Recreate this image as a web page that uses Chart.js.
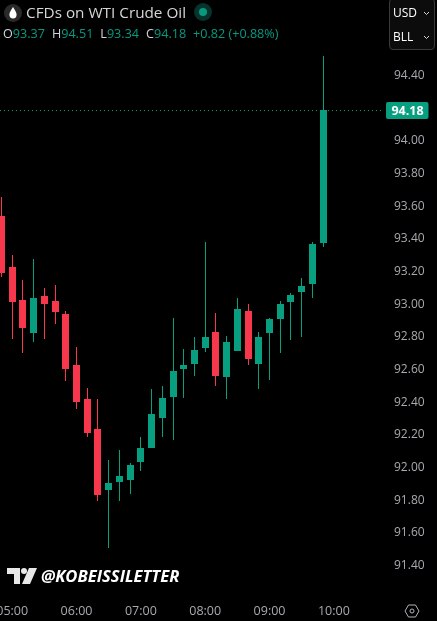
<!DOCTYPE html>
<html lang="en">
<head>
    <meta charset="utf-8"/>
    <title>CFDs on WTI Crude Oil</title>
    <script src="https://cdn.jsdelivr.net/npm/chart.js@4"></script>
    <style>
        * {
            margin: 0;
            padding: 0;
            box-sizing: border-box;
        }

        body {
            width: 437px;
            height: 621px;
            background: #000000;
            overflow: hidden;
            position: relative;
            font-family: "Open Sans", sans-serif;
        }

        canvas {
            position: absolute;
            left: 0;
            top: 0;
        }

        .abs {
            position: absolute;
            white-space: nowrap;
        }

        .title {
            left: 26px;
            top: 1px;
            font-size: 15.3px;
            line-height: 22px;
            color: #d6d6d6;
        }

        .ohlc {
            left: 3px;
            top: 25px;
            font-size: 12.6px;
            line-height: 18px;
            color: #089981;
        }

        .ohlc b {
            font-weight: 400;
            color: #d1d4dc;
        }

        .ohlc span {
            margin-right: 7px;
        }

        .selector {
            left: 389px;
            top: -2px;
            width: 46px;
            height: 52px;
            border: 1px solid #3a3a3a;
            border-radius: 4px;
            background: #0c0c0c;
        }

        .selector div {
            position: absolute;
            left: 3px;
            font-size: 12px;
            line-height: 16px;
            color: #ffffff;
        }

        .selector svg {
            position: absolute;
            left: 33px;
        }

        .watermark {
            left: 41px;
            top: 565px;
            font-size: 16.6px;
            line-height: 22px;
            font-weight: 700;
            font-style: italic;
            color: #ffffff;
        }
    </style>
</head>
<body>
    <canvas id="chart" width="437" height="621"></canvas>

    <svg class="abs" style="left:4px;top:4px" width="18" height="18" viewBox="0 0 18 18">
        <circle cx="9" cy="9" r="9" fill="#2a2a2a"/>
        <path d="M9 3 C7 6.5 5.4 8.5 5.4 10.8 A3.6 3.6 0 0 0 12.6 10.8 C12.6 8.5 11 6.5 9 3 Z" fill="#ffffff"/>
    </svg>
    <div class="abs title">CFDs on WTI Crude Oil</div>
    <svg class="abs" style="left:194px;top:3px" width="18" height="18" viewBox="0 0 18 18">
        <circle cx="9" cy="9" r="9" fill="#06332c"/>
        <circle cx="9" cy="9" r="4" fill="#089981"/>
    </svg>
    <div class="abs ohlc">
        <span><b>O</b>93.37</span><span><b>H</b>94.51</span><span><b>L</b>93.34</span><span><b>C</b>94.18</span><span>+0.82 (+0.88%)</span>
    </div>

    <div class="abs selector">
        <div style="top:6px">USD</div>
        <svg style="top:12px" width="7" height="5" viewBox="0 0 7 5"><path d="M1 1 L3.5 3.5 L6 1" fill="none" stroke="#d1d4dc"/></svg>
        <div style="top:30px">BLL</div>
        <svg style="top:36px" width="7" height="5" viewBox="0 0 7 5"><path d="M1 1 L3.5 3.5 L6 1" fill="none" stroke="#d1d4dc"/></svg>
    </div>

    <svg class="abs" style="left:7px;top:568px" width="30" height="16" viewBox="0 0 30 16">
        <path d="M0 0 H13 V16 H7 V6 H0 Z" fill="#e8e8e8"/>
        <circle cx="17" cy="3" r="3" fill="#e8e8e8"/>
        <path d="M22 0 H30 L23 16 H15 Z" fill="#e8e8e8"/>
    </svg>
    <div class="abs watermark">@KOBEISSILETTER</div>

    <svg class="abs" style="left:404px;top:603px" width="16" height="16" viewBox="0 0 16 16">
        <path d="M4.5 2 H11.5 L15 8 L11.5 14 H4.5 L1 8 Z" fill="none" stroke="#b2b5be"/>
        <circle cx="8" cy="8" r="2" fill="none" stroke="#b2b5be"/>
    </svg>

    <script>
        const barTimes = ["04:50", "05:00", "05:10", "05:20", "05:30", "05:40", "05:50", "06:00", "06:10", "06:20", "06:30",
            "06:40", "06:50", "07:00", "07:10", "07:20", "07:30", "07:40", "07:50", "08:00", "08:10",
            "08:20", "08:30", "08:40", "08:50", "09:00", "09:10", "09:20", "09:30", "09:40", "09:50"];

        const opens = [93.535, 93.222, 93.020, 92.820, 93.045, 93.014, 92.935, 92.622, 92.414, 92.230, 91.859,
            91.908, 91.920, 92.030, 92.116, 92.300, 92.428, 92.598, 92.628, 92.726, 92.824,
            92.551, 92.708, 92.953, 92.628, 92.818, 92.904, 93.008, 93.069, 93.118, 93.372];
        const highs = [93.651, 93.296, 93.143, 93.271, 93.094, 93.112, 92.953, 92.733, 92.481, 92.414, 92.041,
            92.102, 92.022, 92.181, 92.475, 92.494, 92.910, 92.720, 92.794, 93.376, 92.941,
            92.800, 93.033, 92.996, 92.824, 92.910, 93.014, 93.063, 93.155, 93.376, 94.515];
        const lows = [93.161, 92.783, 92.698, 92.765, 92.783, 92.875, 92.526, 92.355, 92.183, 91.791, 91.503,
            91.791, 91.834, 91.975, 92.116, 92.183, 92.163, 92.422, 92.557, 92.702, 92.494,
            92.414, 92.708, 92.622, 92.475, 92.530, 92.696, 92.775, 92.794, 93.033, 93.347];
        const closes = [93.188, 93.010, 92.851, 93.033, 92.998, 92.949, 92.600, 92.398, 92.208, 91.828, 91.900,
            91.943, 92.010, 92.114, 92.322, 92.420, 92.586, 92.622, 92.714, 92.794, 92.555,
            92.763, 92.965, 92.659, 92.794, 92.904, 92.996, 93.051, 93.106, 93.363, 94.182];

        const timeTicks = ["05:00", "06:00", "07:00", "08:00", "09:00", "10:00"];
        const priceTicks = [94.4, 94.0, 93.8, 93.6, 93.4, 93.2, 93.0, 92.8, 92.6, 92.4, 92.2, 92.0, 91.8, 91.6, 91.4];
        const lastPrice = 94.18;

        const upColor = "#089f81";
        const downColor = "#f7374b";
        const labelColor = "#a8aab0";

        function toMinutes(time) {
            const parts = time.split(":");
            return parseInt(parts[0]) * 60 + parseInt(parts[1]);
        }

        const barX = barTimes.map(toMinutes);
        const barColors = closes.map((c, i) => (c >= opens[i] ? upColor : downColor));

        // snap candles to whole pixels, otherwise the 1px wicks come out blurred
        const snapCandles = {
            id: "snapCandles",
            beforeDatasetsDraw(chart) {
                chart.data.datasets.forEach((ds, i) => {
                    if (ds.type === "line") return;
                    chart.getDatasetMeta(i).data.forEach((el) => {
                        el.x = Math.round(el.x - 0.5) + 0.5;
                        el.y = Math.round(el.y);
                        el.base = Math.round(el.base);
                    });
                });
            }
        };

        // green tag with the last price on the right axis
        const priceTag = {
            id: "priceTag",
            afterDraw(chart) {
                const ctx = chart.ctx;
                const y = Math.round(chart.scales.y.getPixelForValue(lastPrice));
                ctx.save();
                ctx.fillStyle = upColor;
                ctx.beginPath();
                ctx.roundRect(386, y - 9, 42.5, 17, 2);
                ctx.fill();
                ctx.fillStyle = "#ffffff";
                ctx.font = '700 12.5px "Open Sans"';
                ctx.textAlign = "center";
                ctx.textBaseline = "middle";
                ctx.fillText(lastPrice.toFixed(2), 407.5, y);
                ctx.restore();
            }
        };

        new Chart(document.getElementById("chart").getContext("2d"), {
            type: "bar",
            data: {
                datasets: [
                    {
                        label: "Body",
                        data: barX.map((x, i) => ({ x: x, y: [opens[i], closes[i]] })),
                        backgroundColor: barColors,
                        barThickness: 7,
                        grouped: false,
                        inflateAmount: 0,
                        borderWidth: 0
                    },
                    {
                        label: "Wick",
                        data: barX.map((x, i) => ({ x: x, y: [lows[i], highs[i]] })),
                        backgroundColor: barColors,
                        barThickness: 1,
                        grouped: false,
                        inflateAmount: 0,
                        borderWidth: 0
                    },
                    {
                        type: "line",
                        label: "Last",
                        data: [{ x: 288.6, y: lastPrice }, { x: 644.9, y: lastPrice }],
                        borderColor: upColor,
                        borderWidth: 1,
                        borderDash: [1, 3],
                        pointRadius: 0
                    }
                ]
            },
            options: {
                responsive: false,
                animation: false,
                layout: { padding: 0 },
                plugins: {
                    legend: { display: false },
                    tooltip: { enabled: false }
                },
                scales: {
                    x: {
                        type: "linear",
                        offset: false,
                        min: 288.6,
                        max: 644.9,
                        grid: { display: false },
                        border: { display: false },
                        afterBuildTicks(scale) {
                            scale.ticks = timeTicks.map((t) => ({ value: toMinutes(t) }));
                        },
                        afterFit(scale) {
                            scale.height = 27;
                            scale.paddingLeft = 0;
                            scale.paddingRight = 0;
                        },
                        ticks: {
                            autoSkip: false,
                            maxRotation: 0,
                            color: labelColor,
                            font: { family: "Open Sans", size: 12.5 },
                            padding: 2,
                            callback: (value) => timeTicks.find((t) => toMinutes(t) === value)
                        }
                    },
                    y: {
                        position: "right",
                        min: 91.22,
                        max: 94.857,
                        grid: { display: false },
                        border: { display: false },
                        afterBuildTicks(scale) {
                            scale.ticks = priceTicks.map((p) => ({ value: p }));
                        },
                        afterFit(scale) {
                            scale.width = 55;
                            scale.paddingTop = 0;
                            scale.paddingBottom = 0;
                        },
                        ticks: {
                            autoSkip: false,
                            color: labelColor,
                            font: { family: "Open Sans", size: 12 },
                            padding: 4,
                            labelOffset: 1,
                            callback: (value) => value.toFixed(2)
                        }
                    }
                }
            },
            plugins: [snapCandles, priceTag]
        });
    </script>
</body>
</html>
